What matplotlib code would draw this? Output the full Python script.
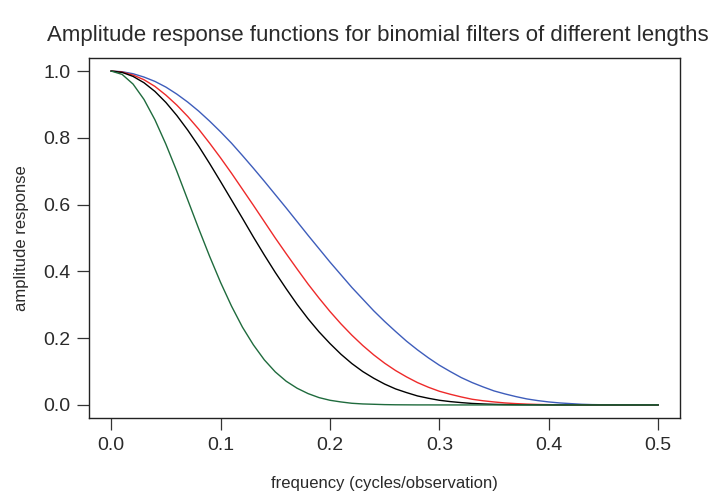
import matplotlib
matplotlib.use("Agg")
import matplotlib.pyplot as plt

plt.rcParams['font.family'] = ['Liberation Sans', 'DejaVu Sans']

freq = [0.00, 0.01, 0.02, 0.03, 0.04, 0.05, 0.06, 0.07, 0.08, 0.09,
        0.10, 0.11, 0.12, 0.13, 0.14, 0.15, 0.16, 0.17, 0.18, 0.19,
        0.20, 0.21, 0.22, 0.23, 0.24, 0.25, 0.26, 0.27, 0.28, 0.29,
        0.30, 0.31, 0.32, 0.33, 0.34, 0.35, 0.36, 0.37, 0.38, 0.39,
        0.40, 0.41, 0.42, 0.43, 0.44, 0.45, 0.46, 0.47, 0.48, 0.49,
        0.50]

len5 = [1.0, 0.998, 0.992, 0.982, 0.969, 0.952, 0.931, 0.907, 0.880, 0.850,
        0.818, 0.784, 0.747, 0.709, 0.670, 0.630, 0.590, 0.549, 0.508, 0.468,
        0.428, 0.390, 0.352, 0.317, 0.282, 0.250, 0.220, 0.191, 0.165, 0.141,
        0.119, 0.100, 0.082, 0.067, 0.054, 0.042, 0.033, 0.025, 0.018, 0.013,
        0.009, 0.006, 0.004, 0.002, 0.001, 0.0006, 0.0003, 0.0001, 0.0, 0.0,
        0.0]
len7 = [1.0, 0.997, 0.988, 0.974, 0.954, 0.928, 0.898, 0.864, 0.826, 0.784,
        0.740, 0.694, 0.646, 0.598, 0.549, 0.500, 0.453, 0.407, 0.362, 0.320,
        0.280, 0.243, 0.209, 0.178, 0.150, 0.125, 0.103, 0.084, 0.067, 0.053,
        0.041, 0.032, 0.024, 0.017, 0.0125, 0.009, 0.006, 0.004, 0.0025, 0.0015,
        0.0009, 0.0005, 0.0002, 0.0001, 0.0, 0.0, 0.0, 0.0, 0.0, 0.0,
        0.0]
len9 = [1.0, 0.996, 0.984, 0.965, 0.939, 0.906, 0.867, 0.823, 0.775, 0.723,
        0.669, 0.614, 0.559, 0.503, 0.449, 0.397, 0.348, 0.301, 0.258, 0.219,
        0.184, 0.152, 0.124, 0.100, 0.080, 0.0625, 0.048, 0.037, 0.027, 0.020,
        0.014, 0.010, 0.007, 0.0045, 0.003, 0.0018, 0.0011, 0.0006, 0.0003, 0.0002,
        0.0001, 0.0, 0.0, 0.0, 0.0, 0.0, 0.0, 0.0, 0.0, 0.0,
        0.0]
len21 = [1.0, 0.990, 0.961, 0.915, 0.854, 0.781, 0.700, 0.614, 0.528, 0.445,
         0.367, 0.296, 0.233, 0.180, 0.135, 0.099, 0.071, 0.050, 0.034, 0.022,
         0.014, 0.009, 0.005, 0.003, 0.002, 0.001, 0.0005, 0.0003, 0.0001, 0.0001,
         0.0, 0.0, 0.0, 0.0, 0.0, 0.0, 0.0, 0.0, 0.0, 0.0,
         0.0, 0.0, 0.0, 0.0, 0.0, 0.0, 0.0, 0.0, 0.0, 0.0,
         0.0]

title = "Amplitude response functions for binomial filters of different lengths"
xlabel = "frequency (cycles/observation)"
ylabel = "amplitude response"
xticks = [0.0, 0.1, 0.2, 0.3, 0.4, 0.5]
yticks = [0.0, 0.2, 0.4, 0.6, 0.8, 1.0]

W, H = 714, 498
fig = plt.figure(figsize=(W / 100, H / 100), dpi=100)
ax = fig.add_axes([89.3 / W, 1 - 418.3 / H, (680 - 89.3) / W, (418.3 - 57.7) / H])

ax.plot(freq, len5, color="#3e5dbb", lw=1.0)
ax.plot(freq, len7, color="#ee2a2a", lw=1.0)
ax.plot(freq, len9, color="#000000", lw=1.0)
ax.plot(freq, len21, color="#1f6b3d", lw=1.0)

ax.set_xlim(-0.02, 0.52)
ax.set_ylim(-0.04, 1.04)
ax.set_xticks(xticks)
ax.set_xticklabels([f"{v:.1f}" for v in xticks])
ax.set_yticks(yticks)
ax.set_yticklabels([f"{v:.1f}" for v in yticks])
ax.tick_params(direction="out", length=8.5, width=0.9, color="#333333",
               labelsize=14, labelcolor="#2a2a2a", pad=5)
for s in ax.spines.values():
    s.set_linewidth(1.0)
    s.set_color("#222222")

fig.text(378 / W, 1 - 35 / H, title, ha="center", va="center", fontsize=16, color="#2a2a2a")
fig.text(384 / W, 1 - 483 / H, xlabel, ha="center", va="center", fontsize=12, color="#2a2a2a")
fig.text(22 / W, 1 - 238 / H, ylabel, ha="center", va="center", rotation=90, fontsize=12, color="#2a2a2a")

fig.savefig("out.png", dpi=100)
